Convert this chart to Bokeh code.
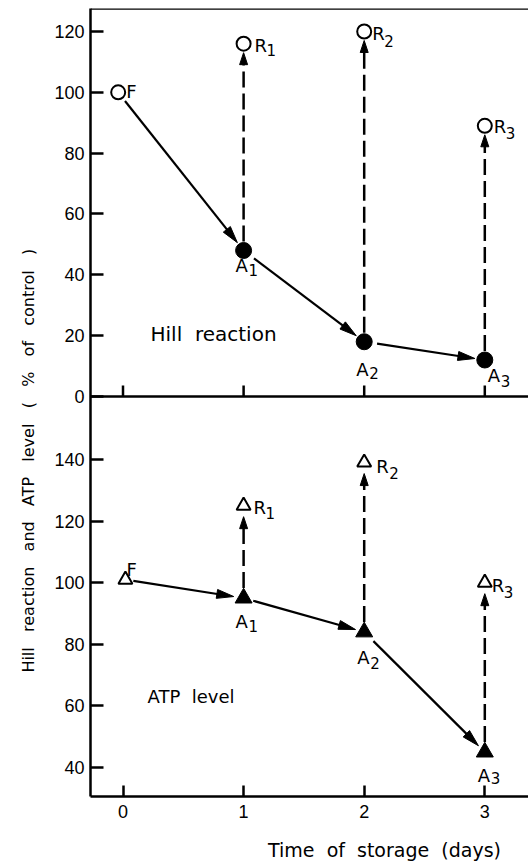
import math
from bokeh.plotting import figure
from bokeh.layouts import row, column
from bokeh.models import (Range1d, FixedTicker, Span, ColumnDataSource,
                          CustomJSTickFormatter)
from bokeh.embed import file_html
from bokeh.resources import INLINE
from bokeh.core.properties import value

# ---------------- data ----------------
days = [1, 2, 3]
hill_fresh_day = -0.04
hill_fresh = 100
hill_aged = [48, 18, 12]
hill_restored = [116, 120, 89]
atp_fresh_day = 0.02
atp_fresh = 101
atp_aged = [95, 84, 45]
atp_restored = [125, 139, 100]
x_ticks = [0, 1, 2, 3]
hill_ticks = [0, 20, 40, 60, 80, 100, 120]
atp_ticks = [40, 60, 80, 100, 120, 140]
subscripts = ["1", "2", "3"]
x_title = "Time\u00a0 of\u00a0 storage\u00a0 (days)"
G = "\u00a0\u00a0 "
y_title = G.join(["Hill", "reaction", "and", "ATP", "level", "(", "%", "of", "control", ")"])
hill_name = "Hill\u00a0 reaction"
atp_name = "ATP\u00a0 level"

# ---------------- geometry / style ----------------
TICK_FONT = "Liberation Sans"
FONT = "DejaVu Sans"
FRAME_W = 438
FRAME_H = 788
BOT_PX = 400
TOP_PX = FRAME_H - BOT_PX
X0 = -0.2695
PX_PER_DAY = 120.6
X1 = X0 + FRAME_W / PX_PER_DAY
ATP_VIEW = (30.58, 160.45)
HILL_VIEW = (0.0, 127.56)
SX = FRAME_W / (X1 - X0)
SY_ATP = BOT_PX / (ATP_VIEW[1] - ATP_VIEW[0])
SY_HILL = TOP_PX / (HILL_VIEW[1] - HILL_VIEW[0])
ATP_SPLIT = ATP_VIEW[1]
MAIN_TOP = 8
MAIN_BOTTOM = 30
MAIN_H = MAIN_TOP + FRAME_H + MAIN_BOTTOM
STRIP_W = 44
MAIN_LEFT = 46
TITLE_H = 39

p = figure(frame_width=FRAME_W, frame_height=FRAME_H,
           x_range=Range1d(X0, X1),
           y_range=Range1d(ATP_VIEW[0], ATP_VIEW[0] + FRAME_H / SY_ATP),
           output_backend="svg", toolbar_location=None,
           min_border_left=MAIN_LEFT, min_border_right=0, min_border_top=MAIN_TOP,
           min_border_bottom=MAIN_BOTTOM)
p.extra_y_ranges = {"hill": Range1d(HILL_VIEW[0] - BOT_PX / SY_HILL, HILL_VIEW[1])}
p.grid.visible = False
p.outline_line_color = None
p.background_fill_color = "white"
p.border_fill_color = "white"

# left axis: both panels' ticks on one axis
left_ticks = list(atp_ticks) + [ATP_SPLIT + v * SY_HILL / SY_ATP for v in hill_ticks]
ya = p.yaxis[0]
ya.ticker = FixedTicker(ticks=left_ticks)
ya.formatter = CustomJSTickFormatter(args=dict(split=ATP_SPLIT, ratio=SY_ATP / SY_HILL), code="""
if (tick < split - 1e-6) { return tick.toFixed(0); }
return Math.round((tick - split) * ratio).toFixed(0);
""")
xa = p.xaxis[0]
xa.ticker = FixedTicker(ticks=x_ticks)
for ax in (xa, ya):
    ax.axis_line_width = 2.5
    ax.axis_line_color = "black"
    ax.major_tick_line_width = 2.5
    ax.major_tick_line_color = "black"
    ax.minor_tick_line_color = None
    ax.major_tick_out = 0
    ax.major_label_text_font = TICK_FONT
    ax.major_label_text_font_size = "18px"
    ax.major_label_text_color = "black"
ya.major_tick_in = 13
ya.major_label_standoff = 6
xa.major_tick_in = 11
xa.major_label_standoff = 8

# top border and the upper panel's own time axis
p.add_layout(Span(location=HILL_VIEW[1], dimension="width", y_range_name="hill",
                  line_color="black", line_width=2.5))
p.add_layout(Span(location=0, dimension="width", y_range_name="hill",
                  line_color="black", line_width=2.5))
p.segment(x0=x_ticks, x1=x_ticks, y0=[0] * len(x_ticks),
          y1=[11 / SY_HILL] * len(x_ticks), y_range_name="hill",
          line_color="black", line_width=2.5)


def arrow(x0, y0, x1, y1, sy, gap0, gap1, head_len, head_half):
    px0, py0, px1, py1 = x0 * SX, y0 * sy, x1 * SX, y1 * sy
    dx, dy = px1 - px0, py1 - py0
    L = math.hypot(dx, dy)
    ux, uy = dx / L, dy / L
    sx0, sy0 = px0 + ux * gap0, py0 + uy * gap0
    tx, ty = px1 - ux * gap1, py1 - uy * gap1
    bx, by = tx - ux * head_len, ty - uy * head_len
    nx, ny = -uy, ux
    seg = (sx0 / SX, sy0 / sy, (bx + ux * 2) / SX, (by + uy * 2) / sy)
    tri = ([tx / SX, (bx + nx * head_half) / SX, (bx - nx * head_half) / SX],
           [ty / sy, (by + ny * head_half) / sy, (by - ny * head_half) / sy])
    return seg, tri


def draw_arrows(pairs, sy, rng, dash, width, head_len, head_half):
    segs = {"x0": [], "y0": [], "x1": [], "y1": []}
    xs, ys = [], []
    for (a, b, g0, g1) in pairs:
        seg, tri = arrow(a[0], a[1], b[0], b[1], sy, g0, g1, head_len, head_half)
        for k, v in zip(("x0", "y0", "x1", "y1"), seg):
            segs[k].append(v)
        xs.append(tri[0])
        ys.append(tri[1])
    kw = {} if rng is None else {"y_range_name": rng}
    p.segment(x0="x0", y0="y0", x1="x1", y1="y1", source=ColumnDataSource(segs),
              line_color="black", line_width=width, line_dash=dash, **kw)
    p.patches(xs=xs, ys=ys, fill_color="black", line_color="black", line_width=1, **kw)


# ----- Hill reaction panel -----
h_path = [(hill_fresh_day, hill_fresh)] + list(zip(days, hill_aged))
draw_arrows([(h_path[0], h_path[1], 11, 10), (h_path[1], h_path[2], 13, 10),
             (h_path[2], h_path[3], 13, 10)], SY_HILL, "hill", "solid", 2.2, 17, 4.5)
draw_arrows([((d, a), (d, r), 9, 9) for d, a, r in zip(days, hill_aged, hill_restored)],
            SY_HILL, "hill", "16 6", 2.5, 12, 4)
p.scatter(x=[hill_fresh_day] + days, y=[hill_fresh] + hill_restored, y_range_name="hill",
          marker="circle", size=14, fill_color="white", line_color="black", line_width=2)
p.scatter(x=days, y=hill_aged, y_range_name="hill", marker="circle", size=16,
          fill_color="black", line_color="black")

# ----- ATP panel -----
a_path = [(atp_fresh_day, atp_fresh)] + list(zip(days, atp_aged))
draw_arrows([(a_path[0], a_path[1], 8, 10), (a_path[1], a_path[2], 10, 9),
             (a_path[2], a_path[3], 13, 9)], SY_ATP, None, "solid", 2.2, 17, 4.5)
draw_arrows([((d, a), (d, r), 10, 11) for d, a, r in zip(days, atp_aged, atp_restored)],
            SY_ATP, None, "16 6", 2.5, 12, 4)
p.scatter(x=[atp_fresh_day] + days, y=[atp_fresh] + atp_restored,
          marker="triangle", size=14, fill_color="white", line_color="black", line_width=2)
p.scatter(x=days, y=atp_aged, marker="triangle", size=17,
          fill_color="black", line_color="black")


# ----- point labels -----
def labels(xs, ys, texts, dxs, dys, size, rng):
    src = ColumnDataSource(dict(x=xs, y=ys, t=texts, dx=dxs, dy=dys))
    kw = {} if rng is None else {"y_range_name": rng}
    p.text(x="x", y="y", text="t", x_offset="dx", y_offset="dy", source=src,
           text_font=value(FONT), text_font_size=value(size), text_color="black",
           text_align="left", text_baseline="middle", **kw)


# Hill labels
labels([hill_fresh_day] + days + days,
       [hill_fresh] + hill_restored + hill_aged,
       ["F", "R", "R", "R", "A", "A", "A"],
       [8, 11, 8, 9, -8, -8, 3],
       [-1, 2, 2, 1, 15, 28, 16], "18px", "hill")
labels(days + days, hill_restored + hill_aged, subscripts + subscripts,
       [23, 20, 21, 5, 5, 16], [6, 10, 7, 20, 31, 21], "15px", "hill")
# ATP labels
labels([atp_fresh_day] + days + days,
       [atp_fresh] + atp_restored + atp_aged,
       ["F", "R", "R", "R", "A", "A", "A"],
       [1, 10, 12, 7, -8, -7, -7],
       [-10, 2, 4, 3, 23, 26, 23], "18px", None)
labels(days + days, atp_restored + atp_aged, subscripts + subscripts,
       [22, 25, 19, 5, 6, 6], [7, 10, 9, 28, 31, 26], "15px", None)

# panel names
p.text(x=[0.228], y=[20.4], text=[hill_name], y_range_name="hill",
       text_font=value(FONT), text_font_size=value("20px"), text_color="black",
       text_align="left", text_baseline="middle")
p.text(x=[0.203], y=[63.0], text=[atp_name],
       text_font=value(FONT), text_font_size=value("18px"), text_color="black",
       text_align="left", text_baseline="middle")

# y-axis title in a narrow strip at the left
lf = figure(width=STRIP_W, height=MAIN_H, x_range=Range1d(0, STRIP_W),
            y_range=Range1d(MAIN_H, 0),
            output_backend="svg", toolbar_location=None, min_border=0,
            x_axis_location=None, y_axis_location=None)
lf.grid.visible = False
lf.outline_line_color = None
lf.background_fill_color = "white"
lf.border_fill_color = "white"
lf.text(x=[28], y=[474], text=[y_title], angle=math.pi / 2,
        text_font=value(FONT), text_font_size=value("16px"), text_color="black",
        text_align="center", text_baseline="middle")

# x-axis title in a strip below, offset to the right like the original
TW = STRIP_W + MAIN_LEFT + FRAME_W
tf = figure(width=TW, height=TITLE_H, x_range=Range1d(0, TW), y_range=Range1d(TITLE_H, 0),
            output_backend="svg", toolbar_location=None, min_border=0,
            x_axis_location=None, y_axis_location=None)
tf.grid.visible = False
tf.outline_line_color = None
tf.background_fill_color = "white"
tf.border_fill_color = "white"
tf.text(x=[384], y=[23], text=[x_title],
        text_font=value(FONT), text_font_size=value("19px"), text_color="black",
        text_align="center", text_baseline="middle")

layout = column(row(lf, p), tf)
open("out.html", "w").write(file_html(layout, INLINE))
